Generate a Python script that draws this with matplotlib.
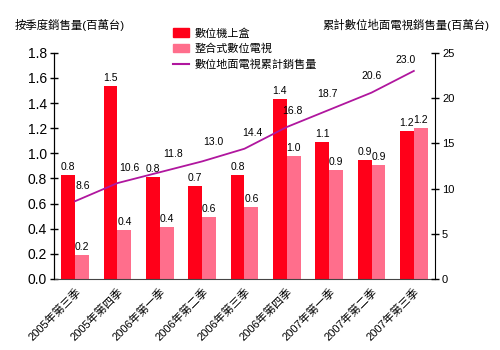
import matplotlib
matplotlib.use("Agg")
import matplotlib.pyplot as plt
import numpy as np
from matplotlib.patches import Patch
from matplotlib.lines import Line2D

plt.rcParams['font.family'] = ['Liberation Sans', 'Noto Sans CJK TC', 'DejaVu Sans']

categories = ["2005年第三季", "2005年第四季", "2006年第一季", "2006年第二季", "2006年第三季",
              "2006年第四季", "2007年第一季", "2007年第二季", "2007年第三季"]
stb_values = [0.83, 1.54, 0.81, 0.74, 0.83, 1.43, 1.09, 0.95, 1.18]
stb_labels = ["0.8", "1.5", "0.8", "0.7", "0.8", "1.4", "1.1", "0.9", "1.2"]
idtv_values = [0.19, 0.39, 0.41, 0.49, 0.57, 0.98, 0.87, 0.91, 1.20]
idtv_labels = ["0.2", "0.4", "0.4", "0.6", "0.6", "1.0", "0.9", "0.9", "1.2"]
cum_values = [8.6, 10.6, 11.8, 13.0, 14.4, 16.8, 18.7, 20.6, 23.0]
series_names = ["數位機上盒", "整合式數位電視", "數位地面電視累計銷售量"]
left_title = "按季度銷售量(百萬台)"
right_title = "累計數位地面電視銷售量(百萬台)"

# label offsets for line labels (pixels, layout only)
line_label_offsets = [(8, 15), (12, 15), (13, 18), (11, 19), (8, 16), (6, 16), (-2, 16), (0, 17), (-8, 11)]

red = "#FF0019"
pink = "#FF6E8C"
purple = "#B0169E"

fig = plt.figure(figsize=(5, 3.5), dpi=100)
ax = fig.add_axes([0.108, 0.203, 0.762, 0.646])
ax2 = ax.twinx()

x = np.arange(len(categories))
w = 0.33
ax.bar(x - w / 2, stb_values, width=w, color=red, zorder=2)
ax.bar(x + w / 2, idtv_values, width=w, color=pink, zorder=2)

for xi, v, s in zip(x, stb_values, stb_labels):
    ax.annotate(s, (xi - w / 2, v), xytext=(0, 3), textcoords="offset pixels",
                ha="center", va="bottom", fontsize=7.5)
for xi, v, s in zip(x, idtv_values, idtv_labels):
    ax.annotate(s, (xi + w / 2, v), xytext=(0, 3), textcoords="offset pixels",
                ha="center", va="bottom", fontsize=7.5)

ax2.plot(x, cum_values, color=purple, lw=1.3, zorder=3)
for xi, v, (dx, dy) in zip(x, cum_values, line_label_offsets):
    ax2.annotate(f"{v:.1f}", (xi, v), xytext=(dx, dy), textcoords="offset pixels",
                 ha="center", va="center", fontsize=7.5)

ax.set_xlim(-0.5, len(categories) - 0.5)
ax.set_ylim(0, 1.8)
ax2.set_ylim(0, 25)
ax.set_yticks(np.arange(0, 1.81, 0.2))
ax.set_yticklabels([f"{t:.1f}" for t in np.arange(0, 1.81, 0.2)], fontsize=10)
ax2.set_yticks([0, 5, 10, 15, 20, 25])
ax2.set_yticklabels(["0", "5", "10", "15", "20", "25"], fontsize=8)

ax.set_xticks(x)
ax.set_xticklabels(categories, rotation=45, ha="right", rotation_mode="anchor", fontsize=8)
ax.tick_params(axis="x", length=0, pad=5)
ax.tick_params(axis="y", direction="inout", length=6, width=1, pad=2)
ax2.tick_params(axis="y", direction="inout", length=6, width=1, pad=2)

for a in (ax, ax2):
    a.spines["top"].set_visible(False)
ax.spines["bottom"].set_color("#444444")
ax2.spines["bottom"].set_visible(False)
ax.spines["right"].set_visible(False)

fig.text(0.03, 0.928, left_title, fontsize=8.2, va="center", ha="left")
fig.text(0.978, 0.928, right_title, fontsize=8.2, va="center", ha="right")

handles = [Patch(color=red), Patch(color=pink), Line2D([0], [0], color=purple, lw=1.5)]
fig.legend(handles, series_names, loc="upper left", bbox_to_anchor=(0.345, 0.92),
           frameon=False, fontsize=8, handlelength=1.5, handleheight=0.8,
           labelspacing=0.45, handletextpad=0.5, borderpad=0, borderaxespad=0)

fig.savefig("out.png", dpi=100)
